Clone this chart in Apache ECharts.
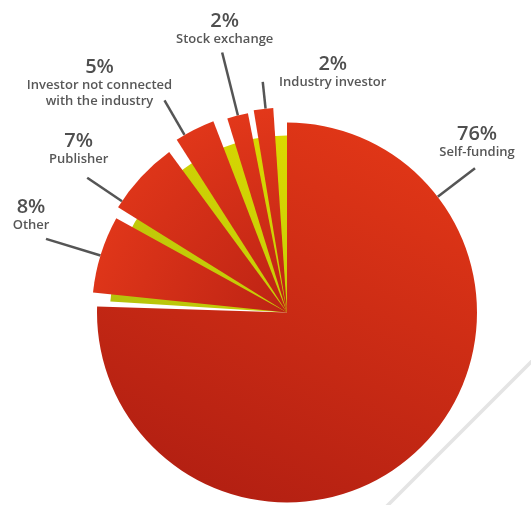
<!DOCTYPE html>
<html>
<head>
<meta charset="utf-8">
<script src="https://cdn.jsdelivr.net/npm/echarts@6/dist/echarts.min.js"></script>
<style>
html,body{margin:0;padding:0;background:#ffffff;}
#chart{width:531px;height:505px;}
</style>
</head>
<body>
<div id="chart"></div>
<script>
// ---- data ----
const categories = ['Self-funding', 'Other', 'Publisher', 'Investor not connected\nwith the industry', 'Stock exchange', 'Industry investor'];
const values = [76, 8, 7, 5, 2, 2];

// ---- layout / style config ----
const CENTER = [287, 312.5];
const LIME_RADIUS = 177;
const sliceRadius = [190, 195, 199, 205, 203, 205];
const slicePad = [1.8, 5.8, 3.4, 6.5, 1.2, 1.7];      // visual gap (deg) carved from each slice
const sliceTurn = [0.9, 0.6, 2.2, 3.4, 3.3, 3.0];     // visual rotation (deg) of each exploded slice
const leaderBearing = [52.5, 287, 304, 330, 346, 354]; // degrees clockwise from 12 o'clock
const leaderEnd = [237, 252, 241, 245, 268, 232];
const labelShift = [[2, -8], [-15, -5.5], [-8.5, -10], [-65, 8.5], [2.5, -5.5], [70, 8.5]];

const TRANSPARENT = 'rgba(0,0,0,0)';
const mainColor = {type: 'linear', x: 0.75, y: 0, x2: 0.3, y2: 1,
  colorStops: [{offset: 0, color: '#e23717'}, {offset: 1, color: '#b21f12'}]};
const smallColor = {type: 'linear', x: 0, y: 0, x2: 1, y2: 1,
  colorStops: [{offset: 0, color: '#e3381a'}, {offset: 1, color: '#bd2314'}]};
const limeColor = {type: 'linear', x: 0, y: 1, x2: 1, y2: 0,
  colorStops: [{offset: 0, color: '#b3c20c'}, {offset: 1, color: '#dcd900'}]};

function labelText(i) {
  const nameLines = categories[i].split('\n').map(s => '{n|' + s + '}').join('\n');
  return '{p|' + values[i] + '%}\n' + nameLines;
}

function makeLayout(i) {
  return function (params) {
    if (params.dataIndex !== i) return {};
    const b = leaderBearing[i] * Math.PI / 180;
    const ux = Math.sin(b), uy = -Math.cos(b);
    const p0 = [CENTER[0] + ux * sliceRadius[i], CENTER[1] + uy * sliceRadius[i]];
    const p1 = [CENTER[0] + ux * leaderEnd[i], CENTER[1] + uy * leaderEnd[i]];
    return {
      x: p1[0] + labelShift[i][0],
      y: p1[1] + labelShift[i][1],
      align: 'center',
      verticalAlign: 'bottom',
      labelLinePoints: [p0, p1, p1]
    };
  };
}

const richStyle = {
  p: {fontFamily: 'Open Sans', fontSize: 20, fontWeight: 600, color: '#4f4f4f', lineHeight: 20, align: 'center'},
  n: {fontFamily: 'Open Sans', fontSize: 13, fontWeight: 600, color: '#575757', lineHeight: 16, align: 'center'}
};

const series = [];

// lime underlay for the non-self-funding share
const restTotal = values.slice(1).reduce((a, b) => a + b, 0);
series.push({
  type: 'pie', silent: true, animation: false,
  center: CENTER, radius: [0, LIME_RADIUS], startAngle: 90, clockwise: true,
  label: {show: false}, labelLine: {show: false},
  emphasis: {disabled: true},
  data: [
    {value: values[0], itemStyle: {color: TRANSPARENT}},
    {value: restTotal, itemStyle: {color: limeColor}}
  ]
});

// one series per slice (each with its own radius)
values.forEach((v, i) => {
  series.push({
    type: 'pie', silent: true, animation: false,
    center: CENTER, radius: [0, sliceRadius[i]], startAngle: 90 + sliceTurn[i], clockwise: true,
    padAngle: slicePad[i],
    avoidLabelOverlap: false,
    emphasis: {disabled: true},
    labelLine: {show: true, length: 10, length2: 0, smooth: false,
      lineStyle: {color: '#555555', width: 2.5}},
    labelLayout: makeLayout(i),
    data: values.map((vv, j) => ({
      value: vv,
      name: categories[j],
      itemStyle: {color: j === i ? (i === 0 ? mainColor : smallColor) : TRANSPARENT, borderWidth: 0},
      label: j === i ? {show: true, position: 'outside', formatter: labelText(i), rich: richStyle} : {show: false},
      labelLine: {show: j === i}
    }))
  });
});

const chart = echarts.init(document.getElementById('chart'), null, {renderer: 'canvas'});
chart.setOption({
  backgroundColor: '#ffffff',
  animation: false,
  graphic: [{
    type: 'line', z: -10, silent: true,
    shape: {x1: 545, y1: 348, x2: 378, y2: 515},
    style: {stroke: '#e4e4e4', lineWidth: 3.5}
  }],
  series: series
});
</script>
</body>
</html>
